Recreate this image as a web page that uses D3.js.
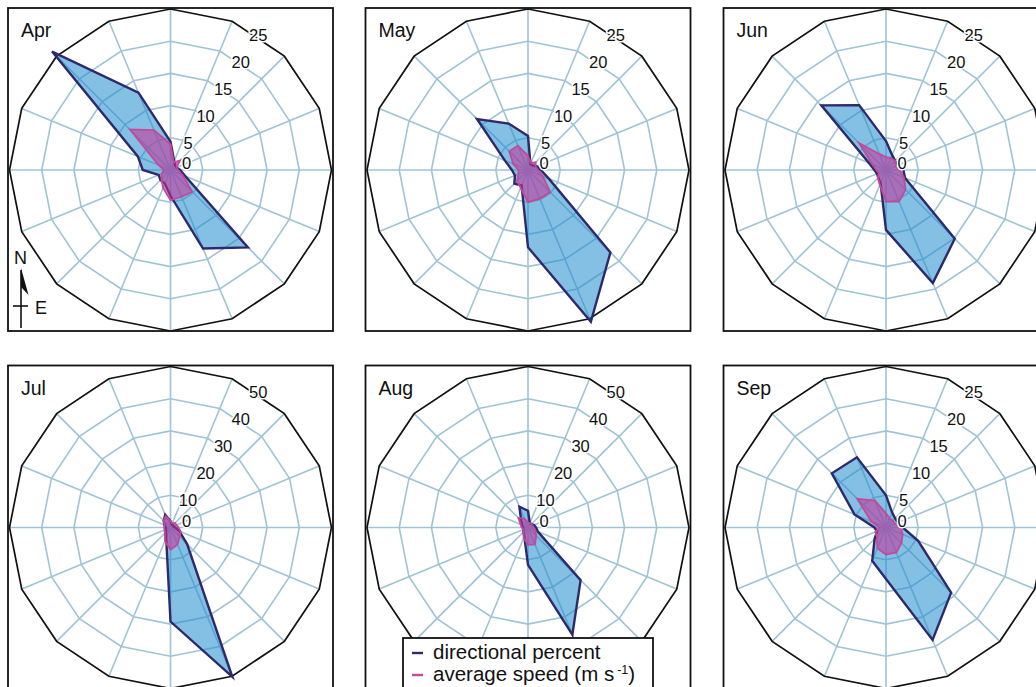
<!DOCTYPE html>
<html>
<head>
<meta charset="utf-8">
<script src="https://cdn.jsdelivr.net/npm/d3@7"></script>
<style>
  html, body { margin: 0; padding: 0; background: #fff; }
  svg { display: block; font-family: "Liberation Sans", Arial, sans-serif; }
</style>
</head>
<body>
<svg id="chart" width="1036" height="687"></svg>
<script>
// 16 compass sectors, clockwise from north
const directions = ["N","NNE","NE","ENE","E","ESE","SE","SSE","S","SSW","SW","WSW","W","WNW","NW","NNW"];

const months = ["Apr", "May", "Jun", "Jul", "Aug", "Sep"];

// Share of observations per sector (%)
const pctApr = [4.4, 1.5, 1.0, 1.0, 1.5, 2.5, 17.0, 13.2, 4.0, 2.3, 2.2, 2.0, 4.3, 5.5, 26.0, 13.0];
const pctMay = [5.3, 1.0, 1.0, 1.5, 2.0, 3.5, 18.1, 25.5, 12.0, 2.6, 3.0, 2.2, 2.5, 3.9, 11.2, 7.8];
const pctJun = [4.5, 2.5, 2.0, 2.0, 2.7, 3.2, 15.1, 19.0, 9.3, 2.2, 1.7, 1.5, 1.8, 2.9, 14.2, 10.9];
const pctJul = [2.0, 1.0, 1.0, 1.0, 1.5, 3.0, 7.3, 50.2, 29.2, 3.5, 2.0, 1.5, 1.5, 2.0, 3.0, 4.3];
const pctAug = [5.2, 1.5, 1.5, 2.0, 2.5, 3.3, 23.1, 36.0, 11.6, 3.0, 2.0, 1.5, 1.5, 2.0, 3.0, 7.0];
const pctSep = [5.0, 2.5, 2.0, 2.0, 2.6, 5.4, 14.3, 18.9, 8.0, 5.6, 2.5, 1.5, 1.8, 5.3, 11.9, 11.8];

// Mean wind speed per sector (m/s)
const spdApr = [4.0, 1.3, 2.1, 1.0, 1.2, 2.0, 4.8, 4.5, 4.7, 3.0, 2.0, 1.5, 1.0, 2.0, 8.9, 6.7];
const spdMay = [2.2, 1.2, 1.7, 1.3, 1.5, 2.5, 4.9, 4.8, 5.0, 3.0, 2.4, 1.6, 1.5, 2.5, 4.1, 4.1];
const spdJun = [2.0, 2.0, 2.0, 1.5, 2.1, 3.0, 4.3, 5.3, 4.9, 2.5, 1.8, 1.2, 1.5, 2.3, 5.9, 2.7];
const spdJul = [2.0, 1.5, 2.0, 2.0, 2.5, 3.5, 4.0, 5.7, 6.9, 4.5, 2.5, 2.0, 2.0, 2.0, 3.0, 3.8];
const spdAug = [1.5, 1.5, 1.5, 1.5, 1.5, 2.5, 3.6, 5.7, 5.4, 3.5, 2.0, 1.5, 2.0, 2.5, 4.2, 3.0];
const spdSep = [2.2, 1.5, 1.5, 1.5, 2.3, 2.8, 3.4, 4.2, 4.2, 3.5, 2.0, 1.8, 1.0, 2.5, 6.3, 4.5];

// Radial tick labels
const ticksLow = [0, 5, 10, 15, 20, 25];
const ticksHigh = [0, 10, 20, 30, 40, 50];

const panels = [
  { name: months[0], pct: pctApr, spd: spdApr, ticks: ticksLow,  col: 0, row: 0 },
  { name: months[1], pct: pctMay, spd: spdMay, ticks: ticksLow,  col: 1, row: 0 },
  { name: months[2], pct: pctJun, spd: spdJun, ticks: ticksLow,  col: 2, row: 0 },
  { name: months[3], pct: pctJul, spd: spdJul, ticks: ticksHigh, col: 0, row: 1 },
  { name: months[4], pct: pctAug, spd: spdAug, ticks: ticksHigh, col: 1, row: 1 },
  { name: months[5], pct: pctSep, spd: spdSep, ticks: ticksLow,  col: 2, row: 1 }
];

const svg = d3.select("#chart");
const R = 161;                 // outer ring radius
const colX = [170.5, 528, 886];
const rowY = [170, 527.5];
const gridColor = "#9ec4d6";
const speedColor = "#c24a98";
const pctColor = "#2c2a6c";
const angleStep = 2 * Math.PI / directions.length;
const labelAngle = 33 * Math.PI / 180;

panels.forEach(p => {
  const cx = colX[p.col], cy = rowY[p.row];
  const g = svg.append("g").attr("transform", `translate(${cx},${cy})`);
  const maxTick = p.ticks[p.ticks.length - 1];
  const r = d3.scaleLinear().domain([0, maxTick]).range([0, R]);

  // panel frame
  g.append("rect")
    .attr("x", -162.5).attr("y", -162)
    .attr("width", 325).attr("height", 323)
    .attr("fill", "#fff").attr("stroke", "#111").attr("stroke-width", 1.8);

  const ring = d3.lineRadial()
    .angle((d, i) => i * angleStep)
    .radius(d => d)
    .curve(d3.curveLinearClosed);

  // spokes
  g.selectAll("line.spoke")
    .data(directions)
    .join("line")
    .attr("class", "spoke")
    .attr("x1", 0).attr("y1", 0)
    .attr("x2", (d, i) => d3.pointRadial(i * angleStep, R)[0])
    .attr("y2", (d, i) => d3.pointRadial(i * angleStep, R)[1])
    .attr("stroke", gridColor).attr("stroke-width", 1.6);

  // inner rings
  p.ticks.slice(1, -1).forEach(t => {
    g.append("path")
      .attr("d", ring(directions.map(() => r(t))))
      .attr("fill", "none").attr("stroke", gridColor).attr("stroke-width", 1.6);
  });
  // outer ring
  g.append("path")
    .attr("d", ring(directions.map(() => r(maxTick))))
    .attr("fill", "none").attr("stroke", "#111").attr("stroke-width", 1.7);

  const poly = d3.lineRadial()
    .angle((d, i) => i * angleStep)
    .radius(d => r(d))
    .curve(d3.curveLinearClosed);

  // directional percent
  g.append("path")
    .attr("d", poly(p.pct))
    .attr("fill", "rgb(36,140,206)").attr("fill-opacity", 0.56)
    .attr("stroke", pctColor).attr("stroke-width", 2.4)
    .attr("stroke-linejoin", "miter");

  // average speed
  g.append("path")
    .attr("d", poly(p.spd))
    .attr("fill", "rgb(200,48,150)").attr("fill-opacity", 0.55)
    .attr("stroke", speedColor).attr("stroke-width", 1.8);

  // radial tick labels
  g.selectAll("text.tick")
    .data(p.ticks)
    .join("text")
    .attr("class", "tick")
    .attr("x", d => d === 0 ? 16 : d3.pointRadial(labelAngle, r(d))[0])
    .attr("y", d => d === 0 ? -6.5 : d3.pointRadial(labelAngle, r(d))[1])
    .attr("dy", "0.36em")
    .attr("text-anchor", "middle")
    .attr("font-size", 16.5)
    .attr("fill", "#111")
    .attr("stroke", "#fff").attr("stroke-width", 3)
    .attr("paint-order", "stroke")
    .text(d => d);

  // month label
  g.append("text")
    .attr("x", -149.5).attr("y", -133)
    .attr("font-size", 19.5)
    .attr("fill", "#111")
    .text(p.name);
});

// north / east orientation marker in the first panel
const marker = svg.append("g").attr("transform", "translate(21,0)");
marker.append("line").attr("x1", 0).attr("y1", 270).attr("x2", 0).attr("y2", 328)
  .attr("stroke", "#111").attr("stroke-width", 1.6);
marker.append("path").attr("d", "M0,268 L7.5,295 L0,287 Z").attr("fill", "#111");
marker.append("line").attr("x1", -8).attr("y1", 306).attr("x2", 7).attr("y2", 306)
  .attr("stroke", "#111").attr("stroke-width", 1.6);
svg.append("text").attr("x", 14).attr("y", 263.5).attr("font-size", 18).attr("fill", "#111").text("N");
svg.append("text").attr("x", 35).attr("y", 314).attr("font-size", 18).attr("fill", "#111").text("E");

// legend
const legend = svg.append("g").attr("transform", "translate(403,638)");
legend.append("rect")
  .attr("x", 0).attr("y", 0).attr("width", 250).attr("height", 60)
  .attr("fill", "#fff").attr("stroke", "#111").attr("stroke-width", 1.8);
const legendItems = [
  { color: pctColor, label: "directional percent", y: 15 },
  { color: speedColor, label: "average speed (m s", y: 37 }
];
legendItems.forEach(item => {
  legend.append("line")
    .attr("x1", 9).attr("x2", 20).attr("y1", item.y).attr("y2", item.y)
    .attr("stroke", item.color).attr("stroke-width", 2.4);
});
legend.append("text").attr("x", 30).attr("y", 20.5).attr("font-size", 20.5).attr("fill", "#111")
  .text(legendItems[0].label);
const t2 = legend.append("text").attr("x", 30).attr("y", 42.5).attr("font-size", 20.5).attr("fill", "#111");
t2.append("tspan").text(legendItems[1].label);
t2.append("tspan").attr("font-size", 12.5).attr("dx", 3).attr("dy", -7).text("-1");
t2.append("tspan").attr("dy", 7).text(")");
</script>
</body>
</html>
